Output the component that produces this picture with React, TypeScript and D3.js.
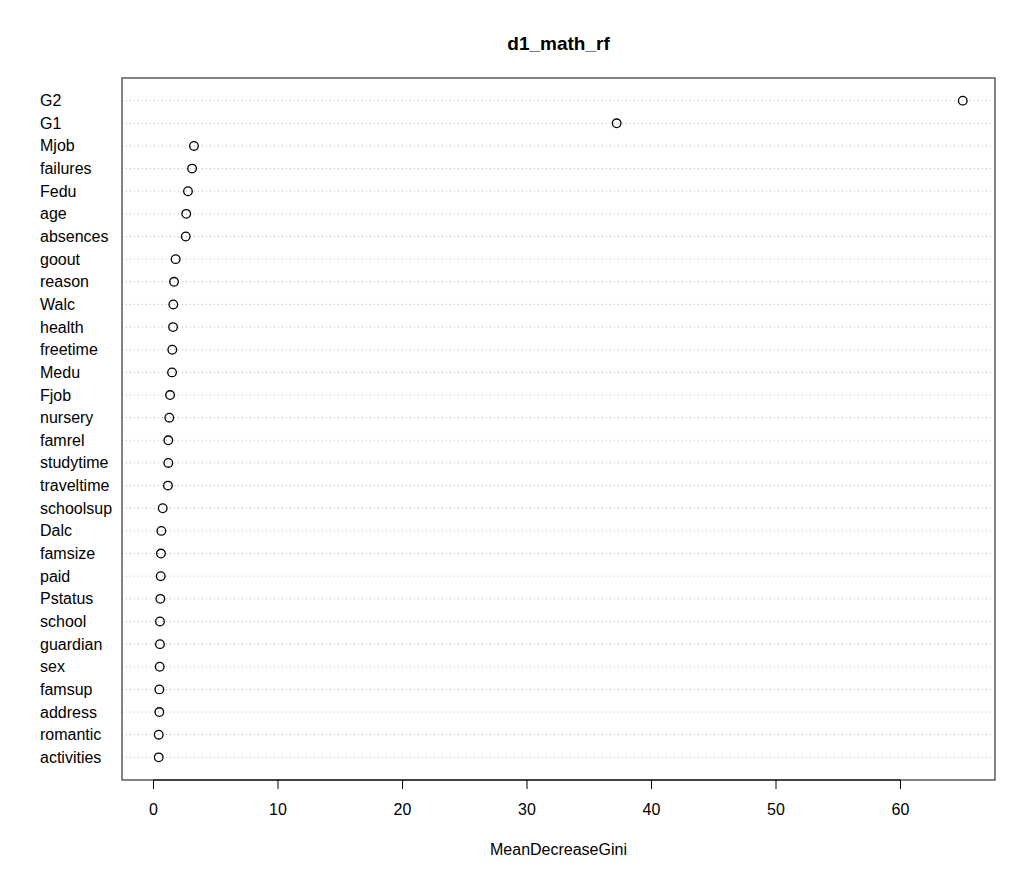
import React from "react";
import * as d3 from "d3";

const variables = ["G2","G1","Mjob","failures","Fedu","age","absences","goout","reason","Walc","health","freetime","Medu","Fjob","nursery","famrel","studytime","traveltime","schoolsup","Dalc","famsize","paid","Pstatus","school","guardian","sex","famsup","address","romantic","activities"];
const meanDecreaseGini = [65.0,37.2,3.25,3.1,2.77,2.63,2.59,1.78,1.65,1.59,1.57,1.51,1.49,1.33,1.27,1.19,1.19,1.16,0.74,0.63,0.60,0.58,0.55,0.52,0.52,0.50,0.47,0.47,0.42,0.42];
const xTicks = [0,10,20,30,40,50,60];
const title = "d1_math_rf";
const xLabel = "MeanDecreaseGini";

const W = 1036, H = 878;
const box = { left: 122, right: 995, top: 78, bottom: 780 };
const font = "'Liberation Sans', Arial, Helvetica, sans-serif";

export default function App() {
  const x = d3.scaleLinear().domain([-2.53, 67.59]).range([box.left, box.right]);
  const y = d3.scaleLinear().domain([0, variables.length + 1]).range([box.top, box.bottom]);
  return (
    <svg width={W} height={H} style={{ position: "absolute", left: 0, top: 0, background: "#fff" }}>
      <text x={(box.left + box.right) / 2} y={43} textAnchor="middle" dominantBaseline="central" fontFamily={font} fontWeight="bold" fontSize={19}>{title}</text>
      {variables.map((v, i) => (
        <g key={v}>
          <line x1={box.left} x2={box.right} y1={y(i + 1)} y2={y(i + 1)} stroke="#bbb" strokeWidth={1} strokeDasharray="1,3" />
          <text x={40} y={y(i + 1)} dominantBaseline="central" fontFamily={font} fontSize={16}>{v}</text>
          <circle cx={x(meanDecreaseGini[i])} cy={y(i + 1)} r={4.3} fill="none" stroke="#000" strokeWidth={1.3} />
        </g>
      ))}
      <rect x={box.left} y={box.top} width={box.right - box.left} height={box.bottom - box.top} fill="none" stroke="#333" strokeWidth={1.2} />
      <line x1={x(0)} x2={x(60)} y1={box.bottom} y2={box.bottom} stroke="#000" />
      {xTicks.map(t => (
        <g key={t}>
          <line x1={x(t)} x2={x(t)} y1={box.bottom} y2={box.bottom + 9} stroke="#000" />
          <text x={x(t)} y={809} textAnchor="middle" dominantBaseline="central" fontFamily={font} fontSize={16}>{t}</text>
        </g>
      ))}
      <text x={(box.left + box.right) / 2} y={849} textAnchor="middle" dominantBaseline="central" fontFamily={font} fontSize={16}>{xLabel}</text>
    </svg>
  );
}
